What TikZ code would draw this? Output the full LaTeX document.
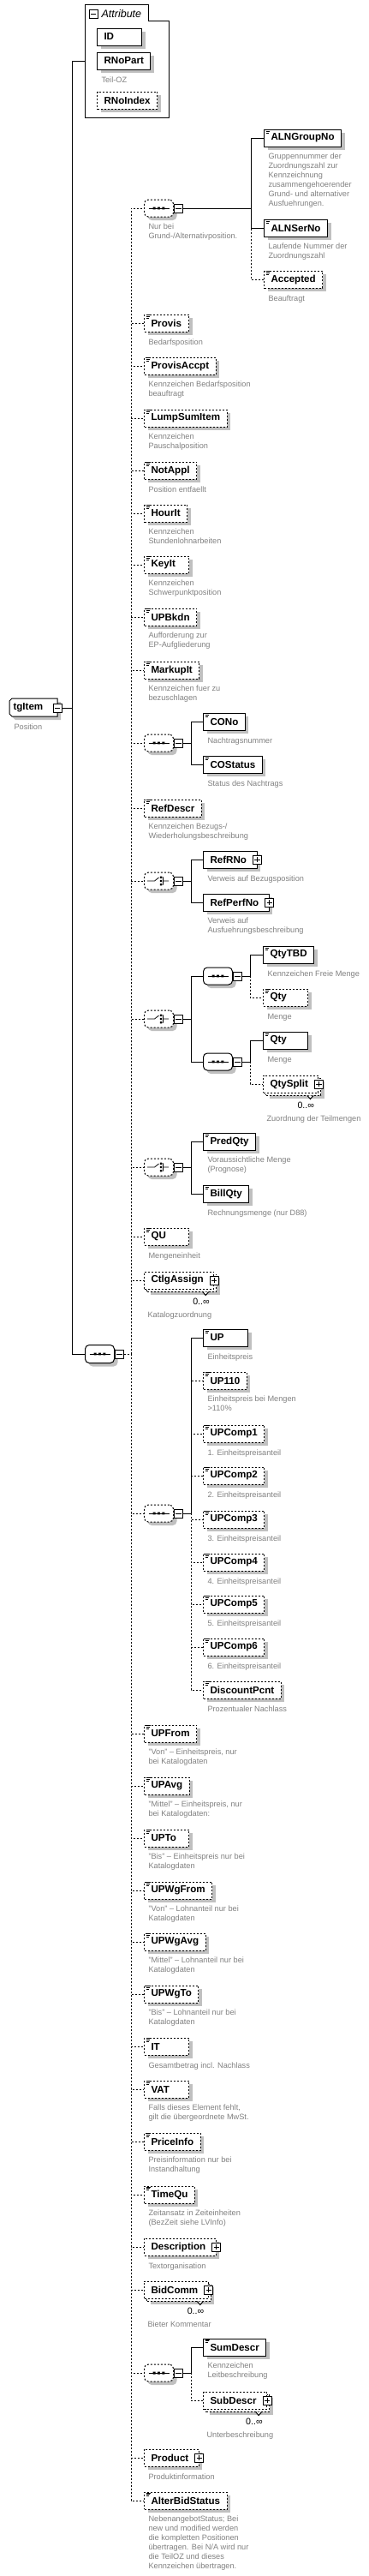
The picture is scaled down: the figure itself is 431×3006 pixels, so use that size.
\documentclass[tikz,border=0pt]{standalone}
\usepackage{fontspec}
\usepackage{tikz}
\setmainfont{Liberation Sans}
\usetikzlibrary{positioning}
\usetikzlibrary{shadows}
\definecolor{descgray}{RGB}{128,128,128}
\definecolor{shadowgray}{RGB}{192,192,192}
\newcommand\elemfont{\fontsize{8.7}{10}\selectfont\bfseries}
\newcommand\descfont{\fontsize{6.9}{8.25}\selectfont}
\newcommand\short[1]{\makebox[27pt][l]{#1}}
\tikzset{opt/.style = {dash pattern=on 1.5pt off 1.5pt}}
\tikzset{boxshadow/.style = {drop shadow={shadow xshift=3pt, shadow yshift=-3pt, draw=none, fill=shadowgray, opacity=1}}}
\tikzset{cplx/.style = {draw, fill=white, boxshadow, anchor=west, minimum height=15pt,
                        inner xsep=6pt, inner ysep=0pt, font=\elemfont}}
\tikzset{leaf/.style = {cplx, path picture={
    \draw [solid, line width=0.5pt] (path picture bounding box.north west) +(1.6pt,-0.6pt) -- +(5.3pt,-0.6pt)
          +(1.6pt,-1.8pt) -- +(4.8pt,-1.8pt) +(1.6pt,-3pt) -- +(4.2pt,-3pt);}}}
\tikzset{many/.style = {draw, fill=white, opt, anchor=west, minimum height=15pt,
                        inner xsep=6pt, inner ysep=0pt, font=\elemfont,
                        drop shadow={shadow xshift=5.25pt, shadow yshift=-5.25pt, draw=none, fill=shadowgray, opacity=1},
                        copy shadow={shadow xshift=2.25pt, shadow yshift=-2.25pt, draw, fill=white, opt}}}
\tikzset{comp/.style = {draw, fill=white, boxshadow, rounded corners=3.5pt,
                        anchor=west, minimum width=25.5pt, minimum height=15pt, inner sep=0pt}}
\tikzset{seq/.style = {comp, path picture={
    \draw [solid, sharp corners] (path picture bounding box.center) +(-9pt,0) -- +(9pt,0);
    \fill [black, sharp corners] (path picture bounding box.center) +(-5.1pt,-1.1pt) rectangle +(-2.9pt,1.1pt)
          +(-1.1pt,-1.1pt) rectangle +(1.1pt,1.1pt) +(2.9pt,-1.1pt) rectangle +(5.1pt,1.1pt);}}}
\tikzset{choice/.style = {comp, path picture={
    \draw [solid, sharp corners, line width=0.6pt] (path picture bounding box.center) +(-10pt,0) -- +(-3.75pt,0) -- +(0pt,3pt)
          +(2.9pt,3.2pt) -- +(3.75pt,3.2pt) -- +(3.75pt,-3.2pt) -- +(2.9pt,-3.2pt) +(3.75pt,0) -- +(8.75pt,0);
    \fill [black, sharp corners] (path picture bounding box.center) +(1pt,2.3pt) rectangle +(2.8pt,4.1pt)
          +(1pt,-0.9pt) rectangle +(2.8pt,0.9pt) +(1pt,-4.1pt) rectangle +(2.8pt,-2.3pt);}}}
\tikzset{togg/.style = {draw, fill=white, solid, inner sep=0pt, minimum size=7.5pt}}
\tikzset{minusbox/.style = {togg, path picture={
    \draw [line width=0.6pt] (path picture bounding box.center) +(-2.3pt,0) -- +(2.3pt,0);}}}
\tikzset{plusbox/.style = {togg, path picture={
    \draw [line width=0.6pt] (path picture bounding box.center) +(-2.3pt,0) -- +(2.3pt,0) +(0,-2.3pt) -- +(0,2.3pt);}}}
\tikzset{desc/.style = {align=left, inner sep=0pt, text=descgray, font=\descfont, execute at begin node=\strut}}
\tikzset{note/.style = {desc, below right=5.3pt and 3.75pt of #1.south west}}
\tikzset{mnote/.style = {desc, below right=18.4pt and 3pt of #1.south west}}
\tikzset{mult/.style = {inner sep=0pt, font=\fontsize{8}{9.6}\selectfont, execute at begin node=\strut,
                        below left=6.7pt and 3.75pt of #1.south east}}
\tikzset{notch/.style = {fill=white, solid}}

\begin{document}
\begin{tikzpicture}[x=0.75pt, y=-0.75pt, line width=0.75pt]
    \useasboundingbox (0,0) rectangle (431,3006);

    % attributes
    \draw (99,5) -- (173,5) -- (173,24) -- (197,24) -- (197,137) -- (99,137) -- cycle;
    \coordinate (attr) at (99,71);
    \node [minusbox] (attrm) at (109,16) {};
    \node [anchor=west, inner sep=0pt, font=\fontsize{9.4}{11}\selectfont\itshape] (attrt) at (118,16) {Attribute};
    \node [cplx] (id) at (113,43) {\short{ID}};
    \node [cplx] (rnopart) at (113,71) {RNoPart};
    \node [note=rnopart] (rnopartd) {Teil-OZ};
    \node [cplx, opt] (rnoindex) at (113,117) {RNoIndex};

    % root and main sequence
    \draw [fill=white, boxshadow] (14,815) -- (67,815) -- (67,836) -- (14,836) -- (11,833) -- (11,818) -- cycle;
    \node [anchor=west, inner sep=0pt, font=\elemfont] (tgitem) at (15,826) {tgItem};
    \node [minusbox] (tgitemm) at (67,826) {};
    \node [desc, anchor=north west] (tgitemd) at (16,843) {Position};
    \coordinate (mainbar) at (84,826);
    \node [seq, minimum height=15.75pt] (mainseq) at (99,1580) {};
    \node [minusbox, right=0pt of mainseq] (mainseqm) {};
    \coordinate (trunk) at (153,1580);

    % ALN group
    \node [seq, opt] (alnseq) at (168,243) {};
    \node [minusbox, right=0pt of alnseq] (alnseqm) {};
    \node [note=alnseq] (alnseqd) {Nur bei\\Grund-/Alternativposition.};
    \coordinate (alnbar) at (293,243);
    \node [leaf] (alngroup) at (308,161) {ALNGroupNo};
    \node [note=alngroup] (alngroupd) {Gruppennummer der\\Zuordnungszahl zur\\Kennzeichnung\\zusammengehoerender\\Grund- und alternativer\\Ausfuehrungen.};
    \node [leaf] (alnserno) at (308,266) {ALNSerNo};
    \node [note=alnserno] (alnsernod) {Laufende Nummer der\\Zuordnungszahl};
    \node [leaf, opt] (accepted) at (308,326) {Accepted};
    \node [note=accepted] (acceptedd) {Beauftragt};

    \node [leaf, opt] (provis) at (168,377) {\short{Provis}};
    \node [note=provis] (provisd) {Bedarfsposition};
    \node [leaf, opt] (provisaccpt) at (168,427) {ProvisAccpt};
    \node [note=provisaccpt] (provisaccptd) {Kennzeichen Bedarfsposition\\beauftragt};
    \node [leaf, opt] (lumpsum) at (168,488) {LumpSumItem};
    \node [note=lumpsum] (lumpsumd) {Kennzeichen\\Pauschalposition};
    \node [leaf, opt] (notappl) at (168,549) {NotAppl};
    \node [note=notappl] (notappld) {Position entfaellt};
    \node [leaf, opt] (hourit) at (168,599) {HourIt};
    \node [note=hourit] (houritd) {Kennzeichen\\Stundenlohnarbeiten};
    \node [leaf, opt] (keyit) at (168,659) {\short{KeyIt}};
    \node [note=keyit] (keyitd) {Kennzeichen\\Schwerpunktposition};
    \node [leaf, opt] (upbkdn) at (168,720) {UPBkdn};
    \node [note=upbkdn] (upbkdnd) {Aufforderung zur\\EP-Aufgliederung};
    \node [leaf, opt] (markupit) at (168,782) {MarkupIt};
    \node [note=markupit] (markupitd) {Kennzeichen fuer zu\\bezuschlagen};

    % change order
    \node [seq, opt] (coseq) at (168,867) {};
    \node [minusbox, right=0pt of coseq] (coseqm) {};
    \coordinate (cobar) at (223,867);
    \node [leaf] (cono) at (237,842) {CONo};
    \node [note=cono] (conod) {Nachtragsnummer};
    \node [leaf] (costatus) at (237,892) {COStatus};
    \node [note=costatus] (costatusd) {Status des Nachtrags};

    \node [leaf, opt] (refdescr) at (168,943) {RefDescr};
    \node [note=refdescr] (refdescrd) {Kennzeichen Bezugs-/\\Wiederholungsbeschreibung};

    % references
    \node [choice, opt] (refch) at (168,1028) {};
    \node [minusbox, right=0pt of refch] (refchm) {};
    \coordinate (refbar) at (223,1028);
    \node [cplx] (refrno) at (237,1003) {RefRNo\kern3pt};
    \node [plusbox] (refrnop) at (refrno.east) {};
    \node [note=refrno] (refrnod) {Verweis auf Bezugsposition};
    \node [cplx] (refperfno) at (237,1053) {RefPerfNo\kern3pt};
    \node [plusbox] (refperfnop) at (refperfno.east) {};
    \node [note=refperfno] (refperfnod) {Verweis auf\\Ausfuehrungsbeschreibung};

    % quantities
    \node [choice, opt] (qtych) at (168,1189) {};
    \node [minusbox, right=0pt of qtych] (qtychm) {};
    \coordinate (qtybar) at (223,1189);
    \node [seq] (qseqa) at (237,1139) {};
    \node [minusbox, right=0pt of qseqa] (qseqam) {};
    \coordinate (qbara) at (292,1139);
    \node [leaf] (qtytbd) at (307,1114) {QtyTBD};
    \node [note=qtytbd] (qtytbdd) {Kennzeichen Freie Menge};
    \node [leaf, opt] (qtya) at (307,1164) {\short{Qty}};
    \node [note=qtya] (qtyad) {Menge};
    \node [seq] (qseqb) at (237,1239) {};
    \node [minusbox, right=0pt of qseqb] (qseqbm) {};
    \coordinate (qbarb) at (292,1239);
    \node [leaf] (qtyb) at (307,1214) {\short{Qty}};
    \node [note=qtyb] (qtybd) {Menge};
    \node [many] (qtysplit) at (307,1265) {QtySplit\kern3pt};
    \draw [notch] ([shift={(-10.1pt,-2.25pt)}]qtysplit.south east) -- ++(2.6pt,-3pt) -- ++(2.6pt,3pt);
    \node [plusbox] (qtysplitp) at (qtysplit.east) {};
    \node [mult=qtysplit] (qtysplitn) {0..∞};
    \node [mnote=qtysplit] (qtysplitd) {Zuordnung der Teilmengen};

    \node [choice, opt] (predch) at (168,1362) {};
    \node [minusbox, right=0pt of predch] (predchm) {};
    \coordinate (predbar) at (223,1362);
    \node [leaf] (predqty) at (237,1332) {PredQty};
    \node [note=predqty] (predqtyd) {Voraussichtliche Menge\\(Prognose)};
    \node [leaf] (billqty) at (237,1393) {BillQty};
    \node [note=billqty] (billqtyd) {Rechnungsmenge (nur D88)};

    \node [leaf, opt] (qu) at (168,1443) {\short{QU}};
    \node [note=qu] (qud) {Mengeneinheit};
    \node [many] (ctlg) at (168,1494) {CtlgAssign\kern3pt};
    \draw [notch] ([shift={(-10.1pt,-2.25pt)}]ctlg.south east) -- ++(2.6pt,-3pt) -- ++(2.6pt,3pt);
    \node [plusbox] (ctlgp) at (ctlg.east) {};
    \node [mult=ctlg] (ctlgn) {0..∞};
    \node [mnote=ctlg] (ctlgd) {Katalogzuordnung};

    % unit prices
    \node [seq, opt] (upseq) at (168,1766) {};
    \node [minusbox, right=0pt of upseq] (upseqm) {};
    \coordinate (upbar) at (223,1766);
    \node [leaf] (up) at (237,1561) {\short{UP}};
    \node [note=up] (upd) {Einheitspreis};
    \node [leaf, opt] (upx) at (237,1611) {UP110};
    \node [note=upx] (upxd) {Einheitspreis bei Mengen\\>110\%};
    \foreach \i/\y in {1/1673, 2/1722, 3/1773, 4/1823, 5/1872, 6/1922} {
        \node [leaf, opt] (upcomp\i) at (237,\y) {UPComp\i};
        \node [note=upcomp\i] (upcompd\i) {\i. Einheitspreisanteil};
    }
    \node [leaf, opt] (discount) at (237,1972) {DiscountPcnt};
    \node [note=discount] (discountd) {Prozentualer Nachlass};

    \node [leaf, opt] (upfrom) at (168,2023) {UPFrom};
    \node [note=upfrom] (upfromd) {"Von" – Einheitspreis, nur\\bei Katalogdaten};
    \node [leaf, opt] (upavg) at (168,2084) {UPAvg};
    \node [note=upavg] (upavgd) {"Mittel" – Einheitspreis, nur\\bei Katalogdaten:};
    \node [leaf, opt] (upto) at (168,2145) {\short{UPTo}};
    \node [note=upto] (uptod) {"Bis" – Einheitspreis nur bei\\Katalogdaten};
    \node [leaf, opt] (upwgfrom) at (168,2206) {UPWgFrom};
    \node [note=upwgfrom] (upwgfromd) {"Von" – Lohnanteil nur bei\\Katalogdaten};
    \node [leaf, opt] (upwgavg) at (168,2266) {UPWgAvg};
    \node [note=upwgavg] (upwgavgd) {"Mittel" – Lohnanteil nur bei\\Katalogdaten};
    \node [leaf, opt] (upwgto) at (168,2327) {UPWgTo};
    \node [note=upwgto] (upwgtod) {"Bis" – Lohnanteil nur bei\\Katalogdaten};
    \node [leaf, opt] (it) at (168,2388) {\short{IT}};
    \node [note=it] (itd) {Gesamtbetrag incl. Nachlass};
    \node [leaf, opt] (vat) at (168,2438) {\short{VAT}};
    \node [note=vat] (vatd) {Falls dieses Element fehlt,\\gilt die übergeordnete MwSt.};
    \node [leaf, opt] (priceinfo) at (168,2499) {PriceInfo};
    \node [note=priceinfo] (priceinfod) {Preisinformation nur bei\\Instandhaltung};
    \node [leaf, opt] (timequ) at (168,2561) {TimeQu};
    \node [note=timequ] (timequd) {Zeitansatz in Zeiteinheiten\\(BezZeit siehe LVInfo)};
    \node [cplx, opt] (description) at (168,2622) {Description\kern3pt};
    \node [plusbox] (descriptionp) at (description.east) {};
    \node [note=description] (descriptiond) {Textorganisation};
    \node [many] (bidcomm) at (168,2672) {BidComm\kern3pt};
    \draw [notch] ([shift={(-10.1pt,-2.25pt)}]bidcomm.south east) -- ++(2.6pt,-3pt) -- ++(2.6pt,3pt);
    \node [plusbox] (bidcommp) at (bidcomm.east) {};
    \node [mult=bidcomm] (bidcommn) {0..∞};
    \node [mnote=bidcomm] (bidcommd) {Bieter Kommentar};

    % descriptions
    \node [seq, opt] (sumseq) at (168,2769) {};
    \node [minusbox, right=0pt of sumseq] (sumseqm) {};
    \coordinate (sumbar) at (223,2769);
    \node [leaf] (sumdescr) at (237,2739) {SumDescr};
    \node [note=sumdescr] (sumdescrd) {Kennzeichen\\Leitbeschreibung};
    \node [many] (subdescr) at (237,2801) {SubDescr\kern3pt};
    \draw [notch] ([shift={(-10.1pt,-2.25pt)}]subdescr.south east) -- ++(2.6pt,-3pt) -- ++(2.6pt,3pt);
    \node [plusbox] (subdescrp) at (subdescr.east) {};
    \node [mult=subdescr] (subdescrn) {0..∞};
    \node [mnote=subdescr] (subdescrd) {Unterbeschreibung};

    \node [cplx, opt] (product) at (168,2868) {Product\kern3pt};
    \node [plusbox] (productp) at (product.east) {};
    \node [note=product] (productd) {Produktinformation};
    \node [leaf, opt] (alterbid) at (168,2918) {AlterBidStatus};
    \node [note=alterbid] (alterbidd) {NebenangebotStatus; Bei\\new und modified werden\\die kompletten Positionen\\übertragen. Bei N/A wird nur\\die TeilOZ und dieses\\Kennzeichen übertragen.};

    % connectors
    \draw (tgitemm.east) -- (mainbar);
    \draw (mainbar) |- (attr);
    \draw (mainbar) |- (mainseq.west);
    \draw [opt] (mainseqm.east) -- (trunk);
    \foreach \n in {alnseq, provis, provisaccpt, lumpsum, notappl, hourit, keyit, upbkdn, markupit,
                    coseq, refdescr, refch, qtych, predch, qu, ctlg, upseq, upfrom, upavg, upto,
                    upwgfrom, upwgavg, upwgto, it, vat, priceinfo, timequ, description, bidcomm,
                    sumseq, product, alterbid}
        \draw [opt] (trunk) |- (\n.west);

    \draw (alnseqm.east) -- (alnbar);
    \draw (alnbar) |- (alngroup.west);
    \draw (alnbar) |- (alnserno.west);
    \draw [opt] (alnbar) |- (accepted.west);

    \draw (coseqm.east) -- (cobar);
    \draw (cobar) |- (cono.west);
    \draw (cobar) |- (costatus.west);

    \draw (refchm.east) -- (refbar);
    \draw (refbar) |- (refrno.west);
    \draw (refbar) |- (refperfno.west);

    \draw (qtychm.east) -- (qtybar);
    \draw (qtybar) |- (qseqa.west);
    \draw (qtybar) |- (qseqb.west);
    \draw (qseqam.east) -- (qbara);
    \draw (qbara) |- (qtytbd.west);
    \draw [opt] (qbara) |- (qtya.west);
    \draw (qseqbm.east) -- (qbarb);
    \draw (qbarb) |- (qtyb.west);
    \draw [opt] (qbarb) |- (qtysplit.west);

    \draw (predchm.east) -- (predbar);
    \draw (predbar) |- (predqty.west);
    \draw (predbar) |- (billqty.west);

    \draw (upseqm.east) -- (upbar);
    \draw (upbar) |- (up.west);
    \foreach \n in {upx, upcomp1, upcomp2, upcomp3, upcomp4, upcomp5, upcomp6, discount}
        \draw [opt] (upbar) |- (\n.west);

    \draw (sumseqm.east) -- (sumbar);
    \draw (sumbar) |- (sumdescr.west);
    \draw [opt] (sumbar) |- (subdescr.west);
\end{tikzpicture}
\end{document}
